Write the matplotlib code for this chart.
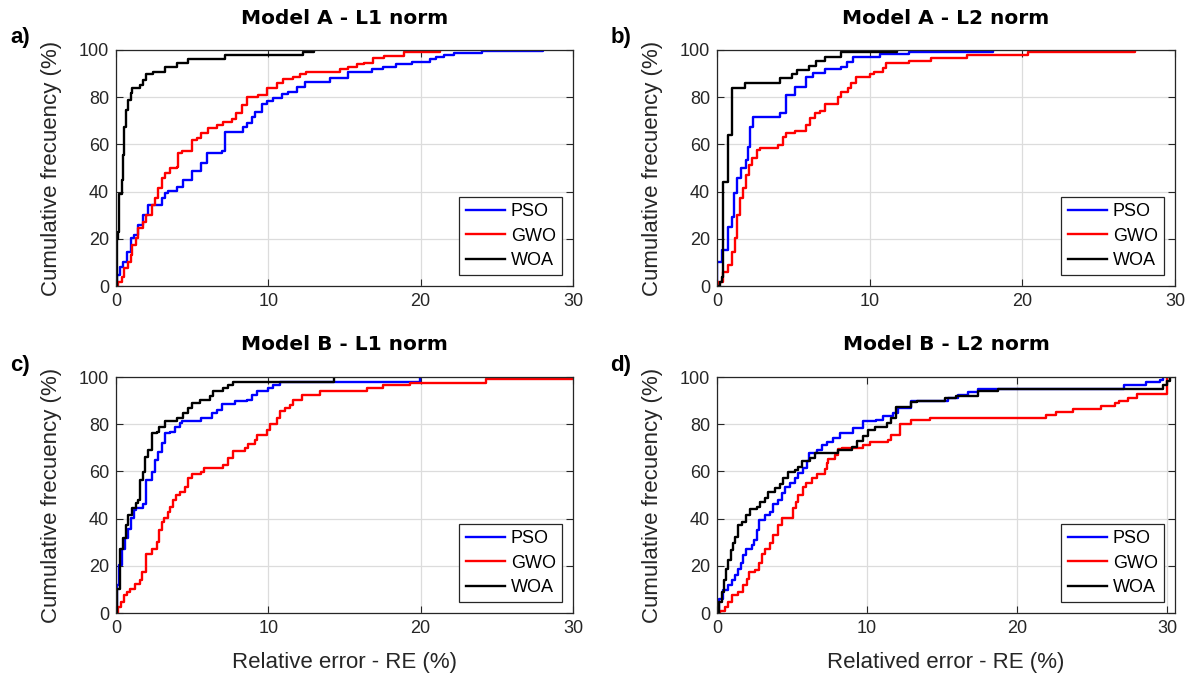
import matplotlib.pyplot as plt

plt.rcParams["font.family"] = ["Liberation Sans", "DejaVu Sans"]

# ---- Model A, L1 norm ----
pso_a1_x = [0, 0.09, 0.26, 0.48, 0.74, 0.96, 1.18, 1.47, 1.79, 2.12, 3.0, 3.2, 3.43, 4.0, 4.4, 4.97, 5.6,
            5.95, 6.94, 7.16, 8.36, 8.58, 8.9, 9.1, 9.56, 9.9, 10.33, 10.9, 11.3, 11.86, 12.4, 14.05, 15.2,
            16.8, 17.5, 18.4, 19.4, 20.6, 21.0, 21.5, 22.2, 24.0, 28.0]
pso_a1_y = [0, 4.7, 8.2, 10.3, 14.5, 20.2, 21.6, 25.8, 30, 34.3, 37.1, 39.3, 40.4, 42, 45, 48.7, 52,
            56.2, 57.2, 65.4, 67.5, 68.9, 71.8, 73.9, 77, 78.4, 79.5, 81.2, 82.3, 84.5, 86.6, 88, 90.8,
            91.8, 92.9, 93.9, 95.1, 96.1, 97.2, 97.9, 98.6, 99.6, 100]
gwo_a1_x = [0, 0.15, 0.37, 0.53, 0.81, 0.96, 1.03, 1.31, 1.47, 1.79, 2.0, 2.34, 2.56, 2.78, 3.0, 3.2, 3.54,
            4.0, 4.1, 4.3, 4.97, 5.3, 5.6, 6.06, 6.6, 7.05, 7.6, 7.9, 8.25, 8.58, 9.34, 9.93, 10.55, 10.98,
            11.6, 12.1, 12.5, 14.7, 15.2, 15.8, 16.3, 16.9, 17.6, 18.9, 21.3]
gwo_a1_y = [0, 1.8, 4, 7.5, 10.3, 13, 17.4, 20.2, 24.4, 27.3, 30, 34.3, 37.1, 41.4, 45.6, 47.7, 49.9,
            50.6, 56.2, 57.2, 61.9, 62.9, 64.7, 67.1, 68.2, 69.6, 70.8, 73.2, 76.7, 80.2, 80.9, 83.8, 85.9, 87.6,
            88.4, 89.7, 90.8, 91.9, 92.7, 93.9, 94.7, 96.5, 97.6, 99.3, 100]
woa_a1_x = [0, 0.04, 0.15, 0.22, 0.37, 0.44, 0.53, 0.66, 0.81, 0.96, 1.07, 1.58, 1.79, 1.97, 2.45, 3.2,
            4.0, 4.75, 7.15, 12.3, 13.0]
woa_a1_y = [0, 20, 23, 39, 45, 55.5, 67.5, 74.6, 78.8, 81.6, 84, 85.2, 87.3, 89.7, 90.5, 93,
            94.4, 96.2, 97.9, 99.3, 100]

# ---- Model A, L2 norm ----
pso_a2_x = [0, 0.01, 0.3, 0.74, 0.96, 1.11, 1.29, 1.6, 1.9, 2.05, 2.16, 2.37, 4.1, 4.55, 5.1, 5.86, 6.3,
            7.06, 8.15, 8.5, 8.9, 10.65, 12.6, 18.1]
pso_a2_y = [0, 10.3, 15.3, 25.1, 29.4, 39.3, 45.6, 49.9, 53.4, 59, 67.5, 71.8, 73.2, 80.9, 84.5, 88.7, 90.1,
            91.9, 92.9, 95, 97.2, 98.2, 99.3, 100]
gwo_a2_x = [0, 0.09, 0.41, 0.74, 0.96, 1.18, 1.29, 1.5, 1.72, 1.9, 2.11, 2.27, 2.6, 2.8, 4.0, 4.3, 4.55,
            5.1, 5.86, 6.08, 6.4, 6.73, 7.06, 7.93, 8.15, 8.58, 8.8, 9.13, 10.0, 10.3, 10.87, 11.1, 12.6,
            14.0, 16.4, 20.4, 27.4]
gwo_a2_y = [0, 1.8, 6.1, 8.9, 14.5, 20.2, 30, 37.1, 41.4, 47, 51.3, 54.1, 57.6, 58.3, 59.7, 63.3, 65,
            65.7, 68.2, 71, 73.2, 74.2, 77, 80.2, 82.3, 83.8, 85.9, 88.7, 89.7, 90.8, 92.5, 94.4, 95.3,
            96.5, 98, 99, 100]
woa_a2_x = [0, 0.2, 0.3, 0.37, 0.74, 0.96, 1.83, 4.1, 4.9, 5.25, 6.0, 6.5, 7.06, 8.15, 11.8]
woa_a2_y = [0, 1.8, 4, 44.2, 64, 83.8, 85.9, 88, 89.7, 91.5, 93.4, 95.3, 97.2, 99, 100]

# ---- Model B, L1 norm ----
pso_b1_x = [0, 0.09, 0.22, 0.37, 0.59, 0.81, 0.96, 1.18, 1.31, 1.79, 2.0, 2.34, 2.56, 2.78, 3.0, 3.2,
            3.54, 3.87, 4.2, 4.3, 5.6, 6.28, 6.6, 6.94, 7.8, 8.58, 8.9, 9.23, 10.0, 10.3, 10.76, 19.95]
pso_b1_y = [0, 11.8, 20.3, 27.3, 31.6, 35.8, 40.1, 43.6, 44.6, 46, 56.4, 59.9, 64.9, 68.4, 72, 76.2,
            76.9, 79, 80.5, 81.2, 82.6, 84.7, 86.1, 88.7, 89.9, 90.4, 92.5, 94.2, 95.3, 96.7, 97.7, 100]
gwo_b1_x = [0, 0.15, 0.31, 0.53, 0.7, 0.92, 1.25, 1.58, 1.68, 1.97, 2.34, 2.67, 2.85, 3.0, 3.15, 3.43,
            3.54, 3.76, 3.94, 4.2, 4.53, 4.75, 4.97, 5.6, 5.8, 7.05, 7.37, 7.7, 8.47, 8.69, 9.12, 9.23, 9.89,
            10.1, 10.55, 10.76, 11.1, 11.4, 11.64, 12.19, 13.4, 16.5, 17.5, 19.3, 24.3, 30.0]
gwo_b1_y = [0, 2.5, 4.7, 7.5, 8.9, 10.3, 12.5, 13.9, 17.4, 24.8, 27.3, 30.2, 35.1, 38.7, 40.1, 42.9,
            45, 47.9, 50, 51.4, 53.5, 57.1, 58.8, 59.9, 61.3, 62.7, 65.6, 68.7, 69.8, 71.5, 73.4, 75.5, 77.6,
            80, 82.6, 85.4, 86.8, 88.2, 90.4, 92.5, 93.9, 95.2, 96.6, 97.6, 99.0, 99.0]
woa_b1_x = [0, 0.09, 0.26, 0.48, 0.66, 0.81, 1.03, 1.31, 1.47, 1.58, 1.79, 1.9, 2.12, 2.34, 2.67, 2.85,
            3.2, 4.0, 4.4, 4.75, 4.97, 5.5, 6.17, 6.4, 7.05, 7.37, 7.7, 14.3]
woa_b1_y = [0, 10.3, 27.3, 31.6, 37.3, 41.5, 44.3, 46.5, 47.9, 56.4, 59.9, 65.9, 69.1, 76.2, 76.9, 79,
            81.2, 82.6, 84.7, 86.8, 89, 90.4, 91.8, 93.9, 95.3, 96.7, 97.7, 100]

# ---- Model B, L2 norm ----
pso_b2_x = [0, 0.16, 0.42, 0.75, 0.98, 1.2, 1.42, 1.57, 1.75, 1.93, 2.3, 2.46, 2.64, 2.82, 3.2, 3.53,
            3.75, 4.08, 4.3, 4.52, 4.86, 5.2, 5.4, 5.74, 6.0, 6.14, 6.63, 6.96, 7.3, 7.74, 8.18, 9.07, 9.73,
            10.6, 11.06, 11.7, 12.06, 12.95, 15.4, 16.05, 16.7, 17.4, 27.1, 28.6, 29.5, 29.7]
pso_b2_y = [0, 6.1, 9.6, 12, 13.9, 16, 18.8, 21, 24.5, 27.3, 28.8, 30.9, 35.1, 39.4, 41.5, 42.9,
            46, 47.9, 50.7, 53.5, 55, 57.1, 59.2, 61.3, 64.2, 67.7, 69.1, 71.2, 72.4, 74.1, 76.2, 78.3, 81.2,
            81.9, 83.3, 84.7, 86.8, 89.7, 91, 92.5, 93.7, 95, 96.5, 97.9, 98.9, 100]
gwo_b2_x = [0, 0.2, 0.53, 0.75, 0.98, 1.42, 1.75, 1.97, 2.15, 2.53, 2.82, 2.97, 3.2, 3.53, 3.75, 4.08,
            4.3, 5.08, 5.25, 5.4, 5.74, 5.96, 6.3, 6.63, 7.18, 7.3, 7.4, 7.85, 8.07, 8.3, 9.73, 10.2, 11.4,
            11.6, 12.2, 12.95, 14.17, 21.9, 22.6, 23.7, 25.6, 26.5, 26.8, 27.4, 28.0, 30.0]
gwo_b2_y = [0, 0.7, 2.5, 4.7, 7.5, 8.9, 11.8, 14.6, 17.4, 18.1, 21, 25.2, 27.3, 29.5, 33, 37.3,
            40.1, 44.3, 47.2, 50, 53.5, 55, 57.4, 58.8, 61, 63.5, 65.3, 67, 69.5, 69.8, 71, 72.4, 73.4,
            75.5, 80, 81.9, 82.5, 83.8, 85, 86.3, 87.7, 88.8, 89.8, 91.2, 92.6, 100]
woa_b2_x = [0, 0.16, 0.31, 0.47, 0.6, 0.75, 0.91, 1.04, 1.2, 1.42, 1.64, 1.93, 2.2, 2.64, 2.86, 3.2,
            3.41, 3.86, 4.2, 4.4, 4.75, 5.2, 5.4, 5.63, 6.19, 6.52, 8.07, 8.96, 9.29, 9.73, 10.07, 10.5,
            11.3, 11.6, 11.95, 12.95, 13.3, 15.2, 15.9, 17.4, 18.7, 29.7, 29.96, 30.2]
woa_b2_y = [0, 4.7, 8.9, 13.9, 18.8, 22.4, 26.6, 29.5, 32.3, 37.3, 38.7, 41.5, 44.1, 45, 47.2, 48.9,
            51.1, 52.8, 54.5, 57.4, 59.9, 60.6, 62, 64.2, 65.6, 67.7, 69.1, 70.5, 72.7, 74.8, 77.6, 79,
            80.5, 82.6, 87.5, 89.4, 89.9, 91, 91.8, 93.9, 95, 96.5, 98.5, 100]

titles = ["Model A - L1 norm", "Model A - L2 norm", "Model B - L1 norm", "Model B - L2 norm"]
tags = ["a)", "b)", "c)", "d)"]
xlabels = [None, None, "Relative error - RE (%)", "Relatived error - RE (%)"]
xmax = [30, 30, 30, 30.5]
series_names = ["PSO", "GWO", "WOA"]
series_colors = ["#0000ff", "#ff0000", "#000000"]

panels = [
    [(pso_a1_x, pso_a1_y), (gwo_a1_x, gwo_a1_y), (woa_a1_x, woa_a1_y)],
    [(pso_a2_x, pso_a2_y), (gwo_a2_x, gwo_a2_y), (woa_a2_x, woa_a2_y)],
    [(pso_b1_x, pso_b1_y), (gwo_b1_x, gwo_b1_y), (woa_b1_x, woa_b1_y)],
    [(pso_b2_x, pso_b2_y), (gwo_b2_x, gwo_b2_y), (woa_b2_x, woa_b2_y)],
]

W, H = 1200, 679
fig = plt.figure(figsize=(W / 100, H / 100), dpi=100)

# axes boxes in pixels: left, top, right, bottom
boxes = [(116, 50, 573, 286), (717, 50, 1175, 286), (116, 377, 573, 613), (717, 377, 1175, 613)]
dark = "#262626"

for i, (l, t, r, b) in enumerate(boxes):
    ax = fig.add_axes([l / W, 1 - b / H, (r - l) / W, (b - t) / H])
    for (x, y), name, c in zip(panels[i], series_names, series_colors):
        ax.plot(x, y, drawstyle="steps-post", color=c, lw=1.7, label=name)

    ax.set_xlim(0, xmax[i])
    ax.set_ylim(0, 100)
    ax.set_xticks([0, 10, 20, 30])
    ax.set_yticks([0, 20, 40, 60, 80, 100])
    ax.grid(True, color="#dcdcdc", lw=0.9)
    ax.set_axisbelow(True)
    ax.tick_params(direction="in", top=True, right=True, length=5, width=0.8,
                   colors=dark, labelsize=13, pad=5)
    for s in ax.spines.values():
        s.set_color(dark)
        s.set_linewidth(0.9)

    ax.set_ylabel("Cumulative frecuency (%)", fontsize=16, color=dark)
    ax.yaxis.set_label_coords(-0.118, 0.5)
    if xlabels[i]:
        ax.set_xlabel(xlabels[i], fontsize=16, color=dark)
        ax.xaxis.set_label_coords(0.5, -0.165)

    leg = ax.legend(loc="lower right", fontsize=13, frameon=True, fancybox=False,
                    framealpha=1, edgecolor=dark, handlelength=2.2, handletextpad=0.3,
                    labelspacing=0.4, borderpad=0.35, borderaxespad=0.6)
    leg.get_frame().set_linewidth(0.9)

    cx = (l + r) / 2 / W
    fig.text(cx, 1 - (t - 32) / H, titles[i], ha="center", va="center",
             fontsize=14.5, fontweight="bold", family="DejaVu Sans")
    fig.text((l - 96) / W, 1 - (t - 12) / H, tags[i], ha="center", va="center",
             fontsize=16, fontweight="bold")

fig.savefig("out.png", dpi=100)
